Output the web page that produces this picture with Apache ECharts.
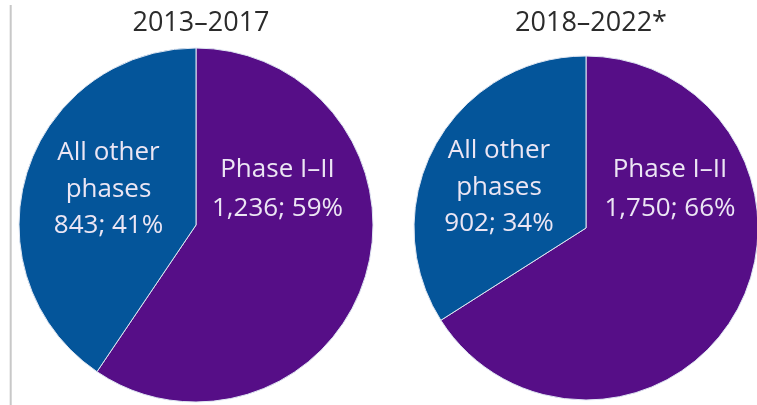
<!DOCTYPE html>
<html>
<head>
<meta charset="utf-8">
<script src="https://cdn.jsdelivr.net/npm/echarts@6/dist/echarts.min.js"></script>
<style>
html,body{margin:0;padding:0;background:#fff;}
#chart{width:757px;height:405px;}
</style>
</head>
<body>
<div id="chart"></div>
<script>
// ---- data ----
var periods = ['2013–2017', '2018–2022*'];
var categories = ['Phase I–II', 'All other\nphases'];
var values2013 = [1236, 843];
var values2018 = [1750, 902];

// ---- layout / style (not data) ----
var colors = ['#560e87', '#04559a'];
var centers = [[196, 225], [586, 228]];
var radii = [177, 172];
var labelOffsets = [
  [[-6, -63], [0, -9]],
  [[6, -82], [-9, 2]]
];
var labelLineHeights = [39, 36.5];

var chart = echarts.init(document.getElementById('chart'), null, {renderer: 'canvas'});

function fmt(p) {
  return p.name + '\n' + p.value.toLocaleString('en-US') + '; ' + Math.round(p.percent) + '%';
}

var allValues = [values2013, values2018];
var series = allValues.map(function (vals, s) {
  return {
    type: 'pie',
    center: centers[s],
    radius: [0, radii[s]],
    startAngle: 90,
    clockwise: true,
    percentPrecision: 0,
    silent: true,
    animation: false,
    itemStyle: {borderColor: '#dfe6f2', borderWidth: 1},
    label: {
      show: true,
      position: 'inside',
      formatter: fmt,
      color: '#ece6f4',
      fontFamily: 'Open Sans',
      fontSize: 26,
      align: 'center'
    },
    labelLine: {show: false},
    data: vals.map(function (v, i) {
      return {
        name: categories[i],
        value: v,
        itemStyle: {color: colors[i]},
        label: {offset: labelOffsets[s][i], lineHeight: labelLineHeights[i]}
      };
    })
  };
});

chart.setOption({
  backgroundColor: '#ffffff',
  title: periods.map(function (t, s) {
    return {
      text: t,
      left: centers[s][0],
      top: 5,
      textAlign: 'center',
      textStyle: {fontFamily: 'Open Sans', fontSize: 27, fontWeight: 'normal', color: '#2b2b2b'}
    };
  }),
  graphic: [{
    type: 'line',
    shape: {x1: 10.7, y1: 5, x2: 10.7, y2: 405},
    style: {stroke: '#c8c8c8', lineWidth: 2}
  }],
  series: series
});
</script>
</body>
</html>
